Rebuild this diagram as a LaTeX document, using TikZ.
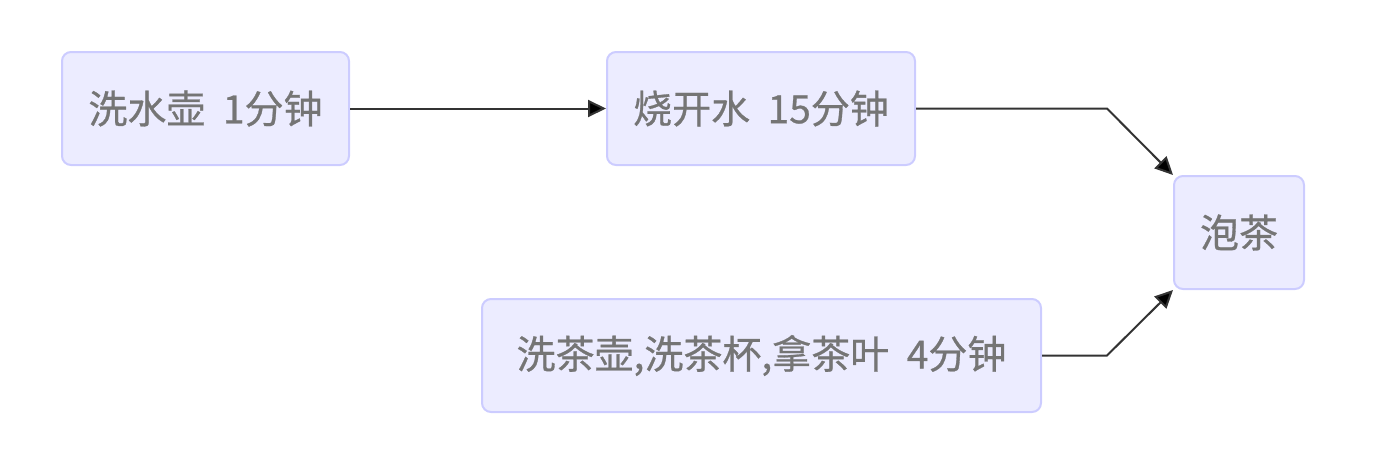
\documentclass[tikz,border=0pt]{standalone}
\usepackage{fontspec}
\newfontfamily\cjk[FakeBold=0.7]{Noto Sans CJK SC}
\usetikzlibrary{arrows.meta}
\definecolor{nodefill}{HTML}{ECECFF}
\definecolor{nodeline}{HTML}{CCCCFF}
\definecolor{textgray}{HTML}{757575}
\definecolor{edgeline}{HTML}{333333}
\begin{document}
\begin{tikzpicture}
		[x=1pt,y=-1pt,
		stepnode/.style={rectangle,rounded corners=9pt,draw=nodeline,line width=2pt,fill=nodefill,
			minimum height=113pt,inner xsep=4pt,text=textgray,font=\cjk\fontsize{39}{44}\selectfont},
		flow/.style={draw=edgeline,line width=2pt,-{Triangle[length=18pt,width=17pt,fill=black]}}]
		\useasboundingbox (0,0) rectangle (1400,464);
		\node[stepnode,minimum width=287pt,name=wash] at (205.5,108.5) {洗水壶\ \ 1分钟};
		\node[stepnode,minimum width=308pt,name=boil] at (761,108.5) {烧开水\ \ 15分钟};
		\node[stepnode,minimum width=130pt,name=tea] at (1239,232.5) {泡茶};
		\node[stepnode,minimum width=559pt,name=prep] at (761.5,355.5) {洗茶壶,洗茶杯,拿茶叶\ \ 4分钟};
		\coordinate (bendtop) at (1107,108.5);
		\coordinate (bendbot) at (1107,355.5);
		\draw[flow] (wash.east) -- (boil.west);
		\draw[flow] (boil.east) -- (bendtop) -- (tea.north west);
		\draw[flow] (prep.east) -- (bendbot) -- (tea.south west);
	\end{tikzpicture}
\end{document}
